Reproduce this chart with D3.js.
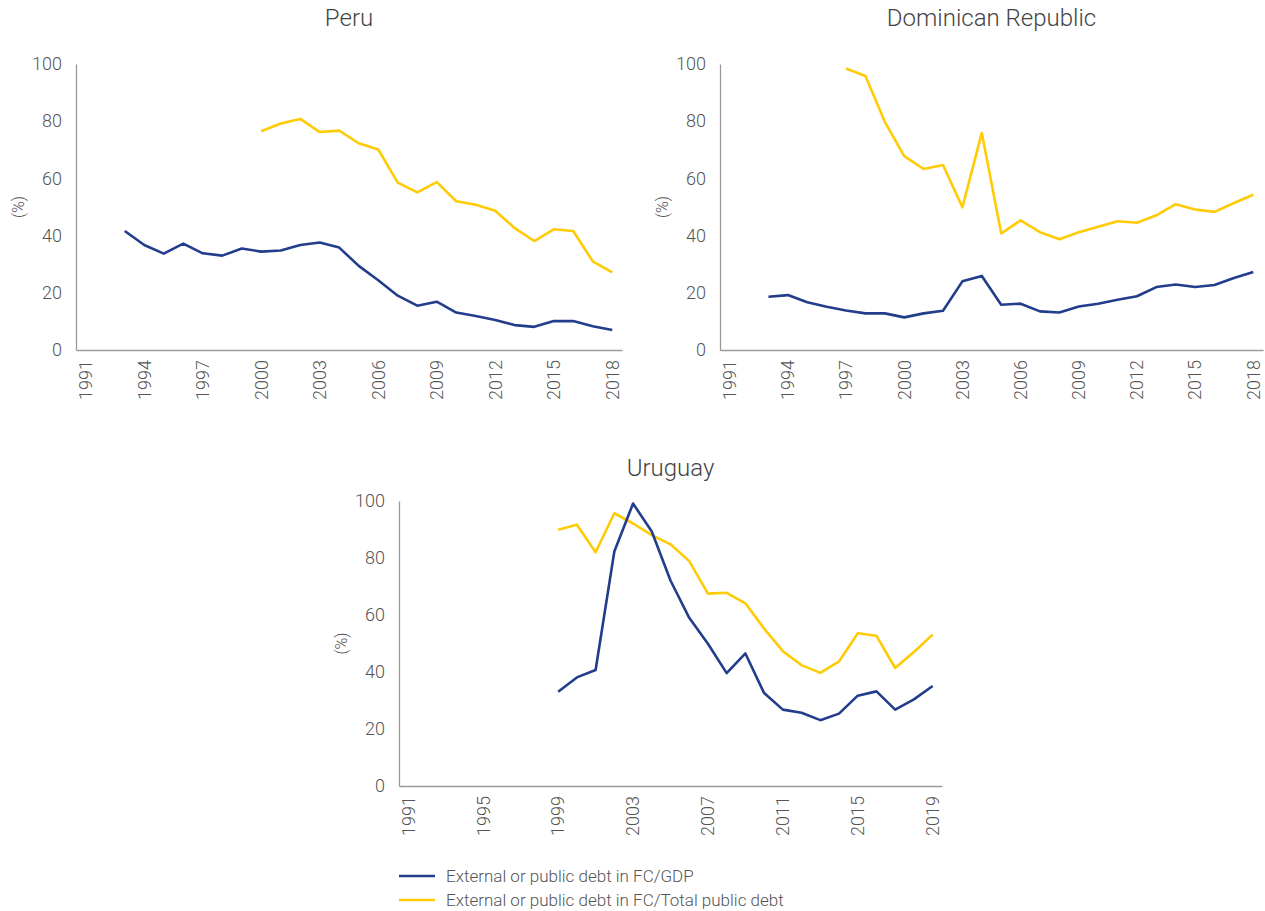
<!DOCTYPE html>
<html><head><meta charset="utf-8">
<script src="https://cdn.jsdelivr.net/npm/d3@7"></script>
<style>
body{margin:0;background:#fff;}
text{font-family:Roboto,"Open Sans",sans-serif;font-weight:300;fill:#555;}
</style></head><body>
<svg id="c" width="1265" height="911"></svg>
<script>
// ---- data ----
const peruYears = d3.range(1991, 2019);
const peruTicks = ["1991","1994","1997","2000","2003","2006","2009","2012","2015","2018"];
const peruGdpStart = 1993;
const peruGdp = [41.6,36.7,33.7,37.2,33.8,33.0,35.5,34.4,34.8,36.7,37.6,35.8,29.4,24.4,19.0,15.5,16.9,13.1,11.9,10.5,8.7,8.1,10.1,10.1,8.3,7.0];
const peruTotStart = 2000;
const peruTot = [76.5,79.2,80.8,76.2,76.7,72.3,70.1,58.5,55.1,58.7,52.0,50.8,48.7,42.6,38.1,42.2,41.6,31.0,27.1];

const domYears = d3.range(1991, 2019);
const domTicks = ["1991","1994","1997","2000","2003","2006","2009","2012","2015","2018"];
const domGdpStart = 1993;
const domGdp = [18.6,19.2,16.7,15.1,13.8,12.8,12.8,11.4,12.8,13.7,24.0,25.9,15.8,16.2,13.5,13.1,15.2,16.2,17.6,18.8,22.0,22.9,22.0,22.7,25.2,27.3];
const domTotStart = 1997;
const domTot = [98.4,95.8,79.8,67.8,63.3,64.7,49.9,75.9,40.8,45.3,41.2,38.7,41.2,43.1,45.0,44.5,47.1,51.0,49.1,48.3,51.4,54.3];

const uruYears = d3.range(1991, 2020);
const uruTicks = ["1991","1995","1999","2003","2007","2011","2015","2019"];
const uruGdpStart = 1999;
const uruGdp = [33.1,38.1,40.7,82.3,99.1,89.3,72.1,59.0,49.9,39.6,46.5,32.6,26.8,25.7,23.1,25.4,31.7,33.2,26.8,30.4,35.1];
const uruTotStart = 1999;
const uruTot = [89.9,91.7,82.0,95.7,92.1,88.0,84.8,78.9,67.5,67.8,64.1,55.2,47.3,42.4,39.7,43.7,53.6,52.7,41.4,47.0,53.1];

const yTicks = [0,20,40,60,80,100];
const seriesNames = ["External or public debt in FC/GDP","External or public debt in FC/Total public debt"];
const colors = ["#223D8B","#FFCB05"];

const svg = d3.select("#c");

function panel(o){
  const g = svg.append("g");
  const x = d3.scaleBand().domain(o.years.map(String)).range([o.x0, o.x1]);
  const y = d3.scaleLinear().domain([0,100]).range([o.yb, o.yt]);
  g.append("text").attr("x",(o.x0+o.x1)/2).attr("y",o.titleY).attr("text-anchor","middle")
    .style("font-size","24px").style("fill","#444").text(o.title);
  // y axis
  const ya = g.append("g").attr("transform",`translate(${o.x0},0)`).call(d3.axisLeft(y).tickValues(yTicks).tickSize(0).tickPadding(14));
  ya.select(".domain").attr("stroke","#9a9a9a").attr("stroke-width",1.3);
  ya.selectAll("text").style("font-size","18px").style("font-family","Roboto").style("font-weight","300").style("fill","#555");
  // x axis
  const xa = g.append("g").attr("transform",`translate(0,${o.yb})`).call(d3.axisBottom(x).tickValues(o.ticks).tickSize(0).tickPadding(10));
  xa.select(".domain").attr("stroke","#9a9a9a").attr("stroke-width",1.3);
  xa.selectAll("text").attr("transform","rotate(-90)").attr("text-anchor","end").attr("x",-10).attr("y",0).attr("dy","0.35em")
    .style("font-size","18px").style("font-family","Roboto").style("font-weight","300").style("fill","#555");
  // y label
  g.append("text").attr("transform",`translate(${o.x0-52},${(o.yt+o.yb)/2}) rotate(-90)`).attr("text-anchor","middle")
    .style("font-size","16px").style("fill","#555").text("(%)");
  const line = d3.line().x(d=>x(String(d[0]))+x.bandwidth()/2).y(d=>y(d[1]));
  [[o.totStart,o.tot,1],[o.gdpStart,o.gdp,0]].forEach(([s,vals,ci])=>{
    g.append("path").datum(vals.map((v,i)=>[s+i,v])).attr("d",line).attr("fill","none")
      .attr("stroke",colors[ci]).attr("stroke-width",2.6).attr("stroke-linejoin","round");
  });
}

panel({title:"Peru",years:peruYears,ticks:peruTicks,gdpStart:peruGdpStart,gdp:peruGdp,totStart:peruTotStart,tot:peruTot,x0:76,x1:622,yt:64,yb:350,titleY:26});
panel({title:"Dominican Republic",years:domYears,ticks:domTicks,gdpStart:domGdpStart,gdp:domGdp,totStart:domTotStart,tot:domTot,x0:720,x1:1263,yt:64,yb:350,titleY:26});
panel({title:"Uruguay",years:uruYears,ticks:uruTicks,gdpStart:uruGdpStart,gdp:uruGdp,totStart:uruTotStart,tot:uruTot,x0:399,x1:942,yt:501,yb:786,titleY:476});

// legend
const lg = svg.append("g");
seriesNames.forEach((n,i)=>{
  const yy = 876 + i*24;
  lg.append("line").attr("x1",399).attr("x2",435).attr("y1",yy).attr("y2",yy).attr("stroke",colors[i]).attr("stroke-width",2.6);
  lg.append("text").attr("x",446).attr("y",yy).attr("dy","0.35em").style("font-size","17px").style("font-weight","300").style("fill","#555").text(n);
});
</script></body></html>
